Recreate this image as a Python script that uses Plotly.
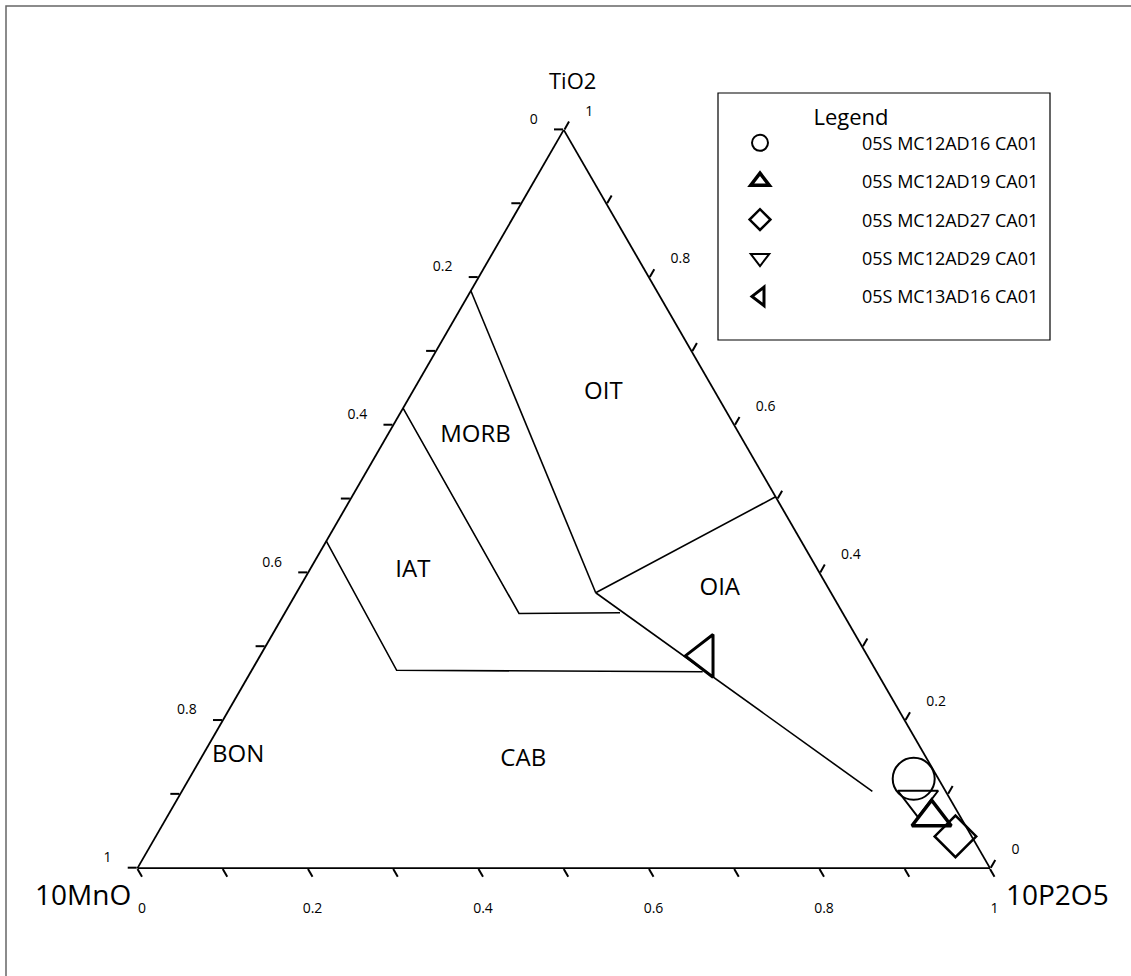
import plotly.graph_objects as go

# ---------------- data (fractions: TiO2, 10MnO, 10P2O5) ----------------
# field boundary polylines
oit_morb_ti = [0.782, 0.373]
oit_morb_mn = [0.218, 0.276]
oit_morb_p = [0.000, 0.351]

oit_oia_ti = [0.373, 0.503]
oit_oia_mn = [0.276, 0.000]
oit_oia_p = [0.351, 0.497]

cab_oia_ti = [0.373, 0.104]
cab_oia_mn = [0.276, 0.086]
cab_oia_p = [0.351, 0.810]

morb_iat_ti = [0.623, 0.345, 0.346]
morb_iat_mn = [0.377, 0.380, 0.261]
morb_iat_p = [0.000, 0.275, 0.393]

iat_cab_ti = [0.443, 0.268, 0.266]
iat_cab_mn = [0.557, 0.562, 0.204]
iat_cab_p = [0.000, 0.170, 0.530]

# field labels
field_names = ["OIT", "MORB", "IAT", "OIA", "BON", "CAB"]
field_ti = [0.643, 0.585, 0.402, 0.378, 0.152, 0.147]
field_mn = [0.132, 0.311, 0.476, 0.128, 0.806, 0.474]
field_p = [0.225, 0.104, 0.122, 0.494, 0.042, 0.379]

# samples
sample_names = ["05S MC12AD16 CA01", "05S MC12AD19 CA01", "05S MC12AD27 CA01",
                "05S MC12AD29 CA01", "05S MC13AD16 CA01"]
sample_ti = [0.121, 0.069, 0.043, 0.093, 0.2875]
sample_mn = [0.029, 0.034, 0.019, 0.038, 0.192]
sample_p = [0.850, 0.897, 0.938, 0.869, 0.5205]

# axis ticks (edge labels show the complementary component, as in the original)
tick_vals = [0, 0.1, 0.2, 0.3, 0.4, 0.5, 0.6, 0.7, 0.8, 0.9, 1.0]
tick_labels = ["1", "", "0.8", "", "0.6", "", "0.4", "", "0.2", "", "0"]

axis_titles = ["TiO2", "10MnO", "10P2O5"]

# ---------------- styling ----------------
FONT = "Open Sans"
W, H = 1131, 976
sample_symbols = ["circle-open", "triangle-up-open", "diamond-open",
                  "triangle-down-open", "triangle-left-open"]
sample_sizes = [42, 34, 32, 35, 37]
sample_lw = [2, 3.5, 2.5, 2, 3]
SP = "\u2002"

# label padding so the numbers sit a little farther from the edges
left_text = [(t + SP + SP + "<br>") if t else "" for t in tick_labels]
bottom_text = [("<br>" + t) if t else "" for t in tick_labels]
right_text = [(SP + SP + t + "<br>") if t else "" for t in tick_labels]

fig = go.Figure()

boundaries = [
    (oit_morb_ti, oit_morb_mn, oit_morb_p),
    (oit_oia_ti, oit_oia_mn, oit_oia_p),
    (cab_oia_ti, cab_oia_mn, cab_oia_p),
    (morb_iat_ti, morb_iat_mn, morb_iat_p),
    (iat_cab_ti, iat_cab_mn, iat_cab_p),
]
for a, b, c in boundaries:
    fig.add_trace(go.Scatterternary(
        a=a, b=b, c=c, mode="lines",
        line=dict(color="black", width=1.6),
        showlegend=False, hoverinfo="skip", cliponaxis=False))

fig.add_trace(go.Scatterternary(
    a=field_ti, b=field_mn, c=field_p, mode="text", text=field_names,
    textfont=dict(family=FONT, size=24, color="black"),
    showlegend=False, hoverinfo="skip", cliponaxis=False))

for i, name in enumerate(sample_names):
    fig.add_trace(go.Scatterternary(
        a=[sample_ti[i]], b=[sample_mn[i]], c=[sample_p[i]],
        mode="markers", name=name, legendgroup=name,
        marker=dict(symbol=sample_symbols[i], size=sample_sizes[i],
                    color="black", line=dict(width=sample_lw[i], color="black")),
        cliponaxis=False))


def axis(ticktext):
    return dict(
        tickmode="array", tickvals=tick_vals, ticktext=ticktext,
        ticks="outside", ticklen=9, tickwidth=1.5, tickcolor="black",
        linecolor="black", linewidth=1.8, showgrid=False,
        tickfont=dict(family=FONT, size=14, color="black"),
        title=dict(text=""),
    )


annotations = [
    dict(text=axis_titles[0], x=572 / W, y=1 - 80 / H, font=dict(size=22)),
    dict(text=axis_titles[1], x=83 / W, y=1 - 894 / H, font=dict(size=28)),
    dict(text=axis_titles[2], x=1057 / W, y=1 - 894 / H, font=dict(size=28)),
]
for an in annotations:
    an.update(xref="paper", yref="paper", showarrow=False,
              xanchor="center", yanchor="middle")
    an["font"].update(family=FONT, color="black")

fig.update_layout(
    width=W, height=H,
    margin=dict(l=0, r=0, t=0, b=0),
    paper_bgcolor="white",
    font=dict(family=FONT, color="black"),
    ternary=dict(
        sum=1,
        bgcolor="white",
        domain=dict(x=[137.5 / W, 990 / W], y=[1 - 880 / H, 1 - 118 / H]),
        aaxis=axis(left_text), baxis=axis(bottom_text), caxis=axis(right_text),
    ),
    annotations=annotations,
    legend=dict(
        x=658 / W, y=1 - 96 / H, xanchor="left", yanchor="top",
        bgcolor="rgba(0,0,0,0)", borderwidth=0,
        font=dict(family=FONT, size=18, color="black"),
        title=dict(text="Legend", side="top center", font=dict(family=FONT, size=22)),
        itemwidth=194, tracegroupgap=12, itemsizing="trace",
    ),
    shapes=[
        dict(type="rect", xref="paper", yref="paper",
             x0=6 / W, y0=-0.05, x1=1.05, y1=1 - 6 / H,
             line=dict(color="#666666", width=1.5)),
        dict(type="rect", xref="paper", yref="paper",
             x0=718 / W, x1=1050 / W, y0=1 - 340 / H, y1=1 - 93 / H,
             line=dict(color="black", width=1.2), layer="below"),
    ],
)

fig.write_html("out.html", config={"displayModeBar": False},
               post_script="document.body.style.margin='0px';")
